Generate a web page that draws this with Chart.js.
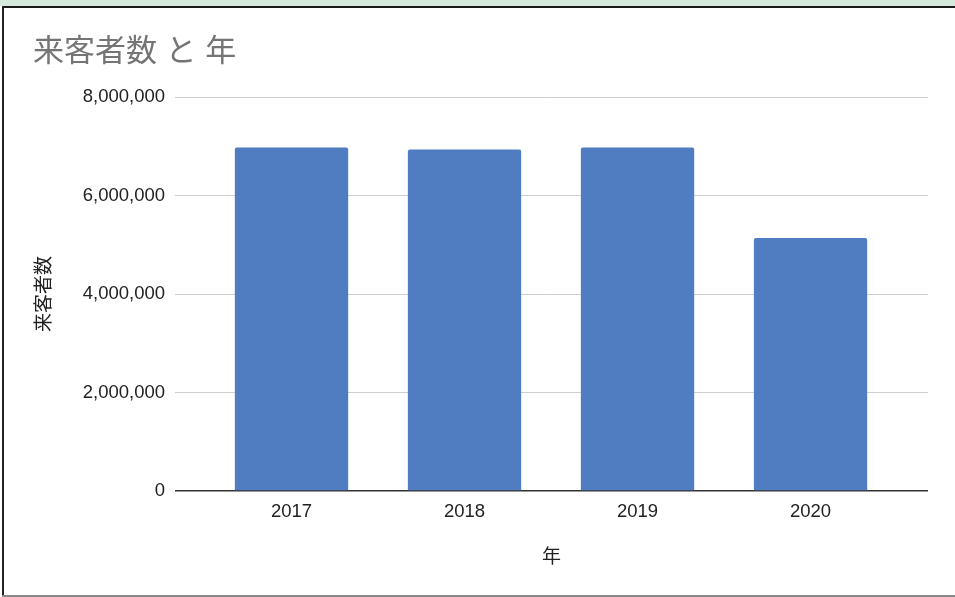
<!DOCTYPE html>
<html>
<head>
<meta charset="utf-8">
<script src="https://cdn.jsdelivr.net/npm/chart.js@4/dist/chart.umd.min.js"></script>
<style>
  html, body { margin: 0; padding: 0; background: #ffffff; }
  #wrap { position: relative; width: 955px; height: 597px; overflow: hidden; }
  #strip { position: absolute; left: 0; top: 0; width: 955px; height: 6px; background: #d5eadc; }
  #topline { position: absolute; left: 2px; top: 6px; width: 953px; height: 2px; background: #1a1a1a; }
  #leftline { position: absolute; left: 2px; top: 6px; width: 2px; height: 590px; background: #222; }
  #bottomline { position: absolute; left: 2px; top: 595px; width: 953px; height: 2px; background: #8a8a8a; }
  #chart { position: absolute; left: 0; top: 0; }
</style>
</head>
<body>
<div id="wrap">
  <div id="strip"></div>
  <div id="topline"></div>
  <div id="leftline"></div>
  <div id="bottomline"></div>
  <canvas id="chart" width="955" height="597"></canvas>
</div>
<script>
///////////////////////////////////////////////////////////////////////////
// DATA
///////////////////////////////////////////////////////////////////////////
var years = ['2017', '2018', '2019', '2020'];
var visitors = [6980000, 6940000, 6980000, 5140000];
var yTicks = [0, 2000000, 4000000, 6000000, 8000000];

var chartTitle = '来客者数 と 年';
var xTitle = '年';
var yTitle = '来客者数';

///////////////////////////////////////////////////////////////////////////
// FUNCTION TO PLOT BAR CHART
///////////////////////////////////////////////////////////////////////////
function plotBarChart(canvasID){
    var ctx = document.getElementById(canvasID).getContext('2d');
    var latin = '"Liberation Sans", Arial, "Noto Sans CJK JP", sans-serif';

    var points = visitors.map(function(v, i){ return {x: i, y: v}; });

    var chart = new Chart(ctx, {
        type: 'bar',
        data: {
            datasets: [{
                data: points,
                backgroundColor: '#507dc1',
                borderRadius: {topLeft: 2, topRight: 2, bottomLeft: 0, bottomRight: 0},
                borderSkipped: 'start',
                categoryPercentage: 1,
                barPercentage: 0.655
            }]
        },
        options: {
            responsive: false,
            animation: false,
            layout: {padding: {left: 33, right: 27, top: 8, bottom: 0}},
            plugins: {
                legend: {display: false},
                tooltip: {enabled: false},
                title: {
                    display: true,
                    text: chartTitle,
                    align: 'start',
                    color: '#757575',
                    font: {family: latin, size: 31, weight: 'normal'},
                    padding: {top: 26, bottom: 26}
                }
            },
            scales: {
                x: {
                    type: 'linear',
                    min: -0.6734,
                    max: 3.679,
                    offset: false,
                    grid: {display: false, offset: false},
                    border: {display: false},
                    afterBuildTicks: function(scale){
                        scale.ticks = years.map(function(_, i){ return {value: i}; });
                    },
                    afterFit: function(scale){ scale.height = 106; },
                    ticks: {
                        padding: 2,
                        color: '#222',
                        font: {family: latin, size: 18.5},
                        callback: function(v){ return years[v]; }
                    },
                    title: {
                        display: true,
                        text: xTitle,
                        color: '#222',
                        font: {family: latin, size: 19},
                        padding: {top: 0, bottom: 28}
                    }
                },
                y: {
                    min: 0,
                    max: 8000000,
                    afterBuildTicks: function(scale){
                        scale.ticks = yTicks.map(function(v){ return {value: v}; });
                    },
                    afterFit: function(scale){ scale.width = 142; },
                    border: {display: false},
                    grid: {
                        drawTicks: false,
                        lineWidth: function(c){ return c.tick && c.tick.value === 0 ? 1.5 : 1; },
                        color: function(c){ return c.tick && c.tick.value === 0 ? '#333' : '#cfcfcf'; }
                    },
                    ticks: {
                        padding: 10,
                        color: '#222',
                        font: {family: latin, size: 18.5},
                        callback: function(v){ return v.toLocaleString('en-US'); }
                    },
                    title: {
                        display: true,
                        text: yTitle,
                        color: '#222',
                        font: {family: latin, size: 19},
                        padding: {top: 0, bottom: 0}
                    }
                }
            }
        }
    });
    return chart;
}
///
plotBarChart('chart');
</script>
</body>
</html>
